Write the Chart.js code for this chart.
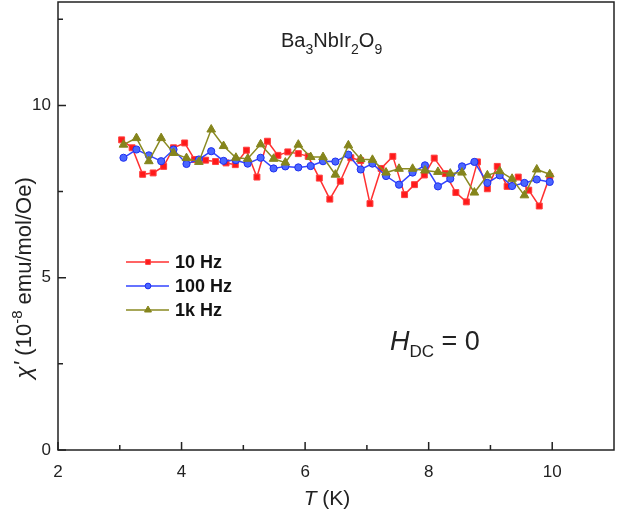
<!DOCTYPE html>
<html>
<head>
<meta charset="utf-8">
<script src="https://cdn.jsdelivr.net/npm/chart.js@4.4.0/dist/chart.umd.min.js"></script>
<style>
html, body { margin: 0; padding: 0; background: #fff; }
#wrap { width: 618px; height: 516px; }
</style>
</head>
<body>
<div id="wrap"><canvas id="chart" width="618" height="516"></canvas></div>
<script>
// temperatures (K) and chi' values (1e-8 emu/mol/Oe)
const temp10Hz = [3.03, 3.20, 3.37, 3.54, 3.71, 3.87, 4.05, 4.21, 4.39, 4.55, 4.72, 4.87,
    5.05, 5.22, 5.39, 5.56, 5.72, 5.89, 6.05, 6.23, 6.40, 6.57, 6.74, 6.90,
    7.05, 7.23, 7.42, 7.61, 7.77, 7.93, 8.09, 8.27, 8.44, 8.61, 8.79, 8.95,
    9.11, 9.27, 9.45, 9.62, 9.79, 9.96];
const chi10Hz = [9.00, 8.77, 8.00, 8.04, 8.23, 8.77, 8.91, 8.43, 8.41, 8.37, 8.33, 8.28,
    8.70, 7.92, 8.96, 8.55, 8.65, 8.60, 8.52, 7.89, 7.28, 7.80, 8.48, 8.40,
    7.15, 8.17, 8.52, 7.41, 7.70, 7.98, 8.47, 8.02, 7.47, 7.20, 8.36, 7.58,
    8.23, 7.65, 7.92, 7.54, 7.08, 7.94];

const tempHigh = [3.06, 3.27, 3.47, 3.67, 3.87, 4.08, 4.28, 4.48, 4.68, 4.88,
    5.07, 5.28, 5.49, 5.68, 5.89, 6.09, 6.29, 6.49, 6.70, 6.90,
    7.09, 7.31, 7.52, 7.74, 7.94, 8.15, 8.35, 8.54, 8.74, 8.95,
    9.15, 9.35, 9.55, 9.75, 9.96];
const chi100Hz = [8.48, 8.72, 8.55, 8.38, 8.72, 8.30, 8.43, 8.67, 8.39, 8.41,
    8.31, 8.48, 8.17, 8.23, 8.20, 8.24, 8.38, 8.37, 8.57, 8.14,
    8.31, 7.95, 7.70, 8.05, 8.26, 7.65, 7.87, 8.23, 8.36, 7.75,
    7.97, 7.66, 7.75, 7.85, 7.78];
const chi1kHz = [8.86, 9.05, 8.38, 9.05, 8.62, 8.47, 8.36, 9.30, 8.82, 8.48,
    8.45, 8.87, 8.45, 8.34, 8.86, 8.50, 8.50, 7.99, 8.84, 8.44,
    8.42, 8.05, 8.16, 8.16, 8.11, 8.07, 8.02, 8.05, 7.47, 7.97,
    8.09, 7.87, 7.39, 8.14, 8.00];

const seriesNames = ["10 Hz", "100 Hz", "1k Hz"];
const xTicks = [2, 4, 6, 8, 10];
const xMinor = [3, 5, 7, 9];
const yTicks = [0, 5, 10];
const yMinor = [2.5, 7.5, 12.5];

const FONT = "'Liberation Sans', Arial, sans-serif";
const INK = "#222";

function pts(xs, ys) {
    return xs.map((x, i) => ({ x: x, y: ys[i] }));
}

function runsWidth(ctx, runs) {
    let w = 0;
    runs.forEach(r => { ctx.font = r.font; w += ctx.measureText(r.text).width; });
    return w;
}

function drawRuns(ctx, x, y, runs) {
    let cx = x;
    runs.forEach(r => {
        ctx.font = r.font;
        ctx.fillText(r.text, cx, y + (r.dy || 0));
        cx += ctx.measureText(r.text).width;
    });
}

const decor = {
    id: "decor",
    afterDraw(chart) {
        const ctx = chart.ctx;
        const a = chart.chartArea;
        const xs = chart.scales.x, ys = chart.scales.y;
        ctx.save();
        ctx.strokeStyle = INK;
        ctx.fillStyle = INK;
        ctx.lineWidth = 1.5;
        ctx.strokeRect(a.left, a.top, a.right - a.left, a.bottom - a.top);

        // inward ticks
        ctx.beginPath();
        xTicks.forEach(v => { const p = xs.getPixelForValue(v); ctx.moveTo(p, a.bottom); ctx.lineTo(p, a.bottom - 8); });
        xMinor.forEach(v => { const p = xs.getPixelForValue(v); ctx.moveTo(p, a.bottom); ctx.lineTo(p, a.bottom - 5); });
        yTicks.forEach(v => { const p = ys.getPixelForValue(v); ctx.moveTo(a.left, p); ctx.lineTo(a.left + 8, p); });
        yMinor.forEach(v => { const p = ys.getPixelForValue(v); ctx.moveTo(a.left, p); ctx.lineTo(a.left + 5, p); });
        ctx.stroke();

        ctx.textBaseline = "alphabetic";
        ctx.textAlign = "left";

        // x title
        let runs = [
            { text: "T", font: "italic 21px " + FONT },
            { text: " (K)", font: "21px " + FONT }
        ];
        drawRuns(ctx, 327 - runsWidth(ctx, runs) / 2, 505, runs);

        // y title
        ctx.save();
        ctx.translate(31, 278);
        ctx.rotate(-Math.PI / 2);
        runs = [
            { text: "\u03c7'", font: "italic 23px " + FONT },
            { text: " (10", font: "22px " + FONT },
            { text: "-8", font: "15px " + FONT, dy: -9 },
            { text: " emu/mol/Oe)", font: "22px " + FONT }
        ];
        drawRuns(ctx, -runsWidth(ctx, runs) / 2, 0, runs);
        ctx.restore();

        // compound label
        const big = "20px " + FONT, sub = "14px " + FONT;
        runs = [
            { text: "Ba", font: big }, { text: "3", font: sub, dy: 7 },
            { text: "NbIr", font: big }, { text: "2", font: sub, dy: 7 },
            { text: "O", font: big }, { text: "9", font: sub, dy: 7 }
        ];
        drawRuns(ctx, 281, 47, runs);

        // field label
        runs = [
            { text: "H", font: "italic 27px " + FONT },
            { text: "DC", font: "17px " + FONT, dy: 7 },
            { text: " = 0", font: "27px " + FONT }
        ];
        drawRuns(ctx, 390, 350, runs);

        // legend
        const rows = [262, 286, 310];
        chart.data.datasets.forEach((ds, i) => {
            const y = rows[i];
            ctx.strokeStyle = ds.borderColor;
            ctx.lineWidth = 1.5;
            ctx.beginPath();
            ctx.moveTo(126, y);
            ctx.lineTo(169, y);
            ctx.stroke();
            ctx.fillStyle = ds.pointBackgroundColor;
            ctx.strokeStyle = ds.pointBorderColor;
            ctx.lineWidth = 1;
            Chart.helpers.drawPoint(ctx, { pointStyle: ds.pointStyle, radius: ds.pointRadius * 0.8, rotation: 0, borderWidth: 1 }, 148, y);
            ctx.fillStyle = "#111";
            ctx.font = "bold 18px " + FONT;
            ctx.textBaseline = "middle";
            ctx.fillText(seriesNames[i], 175, y + 1);
        });
        ctx.restore();
    }
};

new Chart(document.getElementById("chart"), {
    type: "scatter",
    data: {
        datasets: [
            {
                label: seriesNames[0],
                data: pts(temp10Hz, chi10Hz),
                showLine: true,
                borderColor: "#ff3030",
                borderWidth: 1.5,
                pointStyle: "rect",
                pointRadius: 4.2,
                pointBackgroundColor: "#ff1a1a",
                pointBorderColor: "#ff4040",
                pointBorderWidth: 1,
                order: 2
            },
            {
                label: seriesNames[1],
                data: pts(tempHigh, chi100Hz),
                showLine: true,
                borderColor: "#3344ff",
                borderWidth: 1.5,
                pointStyle: "circle",
                pointRadius: 3.6,
                pointBackgroundColor: "#4a66ff",
                pointBorderColor: "#1f2ff0",
                pointBorderWidth: 1,
                order: 1
            },
            {
                label: seriesNames[2],
                data: pts(tempHigh, chi1kHz),
                showLine: true,
                borderColor: "#8a8a22",
                borderWidth: 1.5,
                pointStyle: "triangle",
                pointRadius: 5,
                pointBackgroundColor: "#85851c",
                pointBorderColor: "#85851c",
                pointBorderWidth: 1,
                order: 0
            }
        ]
    },
    options: {
        responsive: false,
        animation: false,
        devicePixelRatio: 1,
        layout: { autoPadding: false, padding: { top: 2, right: 4, left: 0, bottom: 0 } },
        plugins: {
            legend: { display: false },
            tooltip: { enabled: false }
        },
        scales: {
            x: {
                type: "linear",
                min: 2,
                max: 11,
                afterBuildTicks: s => { s.ticks = xTicks.map(v => ({ value: v })); },
                afterFit: s => { s.height = 66; s.paddingLeft = 0; s.paddingRight = 0; },
                grid: { display: false, drawTicks: false },
                border: { display: false },
                ticks: { padding: 12, color: INK, font: { family: FONT, size: 17 } }
            },
            y: {
                type: "linear",
                min: 0,
                max: 13,
                afterBuildTicks: s => { s.ticks = yTicks.map(v => ({ value: v })); },
                afterFit: s => { s.width = 58; s.paddingTop = 0; s.paddingBottom = 0; },
                grid: { display: false, drawTicks: false },
                border: { display: false },
                ticks: { padding: 7, color: INK, font: { family: FONT, size: 17 } }
            }
        }
    },
    plugins: [decor]
});
</script>
</body>
</html>
